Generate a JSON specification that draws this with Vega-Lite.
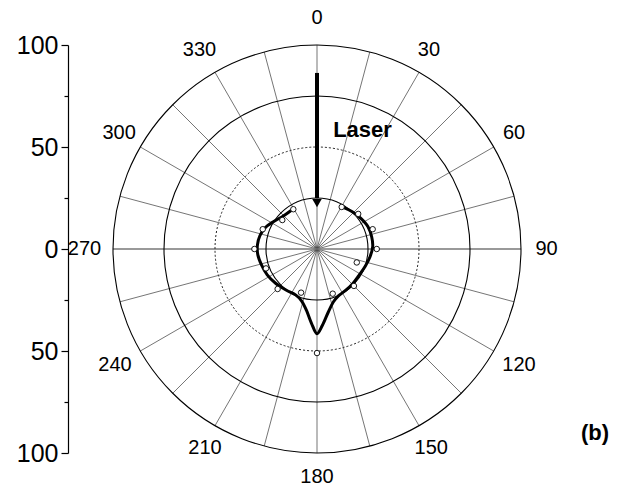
{
  "$schema": "https://vega.github.io/schema/vega-lite/v6.json",
  "width": 408,
  "height": 408,
  "autosize": {"type": "none"},
  "padding": {"left": 113, "top": 45, "right": 109, "bottom": 35},
  "background": "white",
  "config": {
    "view": {"stroke": null},
    "font": "Liberation Sans",
    "axisY": {
      "domainColor": "black",
      "domainWidth": 1.2,
      "tickColor": "black",
      "tickWidth": 1.2,
      "labelFontSize": 25,
      "labelColor": "black",
      "labelFont": "Liberation Sans",
      "labelPadding": 3,
      "grid": false
    }
  },
  "datasets": {
    "circles": [{"r": 25}, {"r": 75}, {"r": 100}],
    "dotted": [{"r": 50}],
    "spokes": [
      {"a": 0, "x1": 0, "y1": 100, "x2": 0, "y2": -100},
      {"a": 15, "x1": 25.88, "y1": 96.59, "x2": -25.88, "y2": -96.59},
      {"a": 30, "x1": 50, "y1": 86.6, "x2": -50, "y2": -86.6},
      {"a": 45, "x1": 70.71, "y1": 70.71, "x2": -70.71, "y2": -70.71},
      {"a": 60, "x1": 86.6, "y1": 50, "x2": -86.6, "y2": -50},
      {"a": 75, "x1": 96.59, "y1": 25.88, "x2": -96.59, "y2": -25.88},
      {"a": 105, "x1": 96.59, "y1": -25.88, "x2": -96.59, "y2": 25.88},
      {"a": 120, "x1": 86.6, "y1": -50, "x2": -86.6, "y2": 50},
      {"a": 135, "x1": 70.71, "y1": -70.71, "x2": -70.71, "y2": 70.71},
      {"a": 150, "x1": 50, "y1": -86.6, "x2": -50, "y2": 86.6},
      {"a": 165, "x1": 25.88, "y1": -96.59, "x2": -25.88, "y2": 96.59}
    ],
    "hspoke": [{"a": 90, "x1": 100, "y1": 0, "x2": -100, "y2": 0}],
    "curve": [
      {"i": 0, "x": -11.9, "y": 19.5},
      {"i": 1, "x": -16.5, "y": 16.2},
      {"i": 2, "x": -21.4, "y": 13.4},
      {"i": 3, "x": -25.5, "y": 10.3},
      {"i": 4, "x": -28.0, "y": 6.5},
      {"i": 5, "x": -29.2, "y": 2.0},
      {"i": 6, "x": -29.0, "y": -2.9},
      {"i": 7, "x": -27.2, "y": -7.8},
      {"i": 8, "x": -24.4, "y": -12.7},
      {"i": 9, "x": -20.3, "y": -16.8},
      {"i": 10, "x": -15.2, "y": -20.1},
      {"i": 11, "x": -10.5, "y": -22.5},
      {"i": 12, "x": -7.5, "y": -25.5},
      {"i": 13, "x": -5.2, "y": -30.0},
      {"i": 14, "x": -2.7, "y": -36.4},
      {"i": 15, "x": 0, "y": -41.5},
      {"i": 16, "x": 2.6, "y": -37.5},
      {"i": 17, "x": 5.5, "y": -31.0},
      {"i": 18, "x": 8.0, "y": -26.0},
      {"i": 19, "x": 10.5, "y": -23.0},
      {"i": 20, "x": 14.0, "y": -20.3},
      {"i": 21, "x": 17.5, "y": -17.0},
      {"i": 22, "x": 20.5, "y": -13.0},
      {"i": 23, "x": 23.5, "y": -8.7},
      {"i": 24, "x": 26.0, "y": -3.8},
      {"i": 25, "x": 27.3, "y": 1.1},
      {"i": 26, "x": 26.8, "y": 6.0},
      {"i": 27, "x": 25.0, "y": 10.9},
      {"i": 28, "x": 21.5, "y": 15.0},
      {"i": 29, "x": 17.3, "y": 18.3},
      {"i": 30, "x": 12.9, "y": 20.4}
    ],
    "points": [
      {"x": -11.6, "y": 19.5},
      {"x": -17.0, "y": 14.2},
      {"x": -26.6, "y": 9.7},
      {"x": -30.7, "y": 0},
      {"x": -25.0, "y": -9.5},
      {"x": -19.3, "y": -19.6},
      {"x": -7.8, "y": -21.4},
      {"x": 0, "y": -51},
      {"x": 7.7, "y": -21.9},
      {"x": 18.1, "y": -18.1},
      {"x": 19.5, "y": -6.6},
      {"x": 29.3, "y": 0},
      {"x": 27.3, "y": 9.7},
      {"x": 20.2, "y": 17.2},
      {"x": 12.1, "y": 20.6}
    ],
    "arrow": [{"x": 0, "y": 86.3, "y2": 25}],
    "arrowhead": [{"x": 0, "y": 22.5}],
    "labels": [
      {"lab": "0", "x": 0, "y": 113},
      {"lab": "30", "x": 54.9, "y": 97.5},
      {"lab": "60", "x": 96.6, "y": 56.9},
      {"lab": "90", "x": 112.5, "y": 0},
      {"lab": "120", "x": 99, "y": -56.9},
      {"lab": "150", "x": 56, "y": -97.5},
      {"lab": "180", "x": 0, "y": -112},
      {"lab": "210", "x": -54.9, "y": -97.5},
      {"lab": "240", "x": -99, "y": -56.9},
      {"lab": "270", "x": -114, "y": 0},
      {"lab": "300", "x": -97, "y": 56.9},
      {"lab": "330", "x": -57.6, "y": 97.5}
    ],
    "bold": [
      {"lab": "Laser", "x": 22.3, "y": 58.3},
      {"lab": "(b)", "x": 136.3, "y": -90.2}
    ]
  },
  "layer": [
    {
      "data": {"name": "spokes"},
      "mark": {"type": "rule", "color": "#3a3a3a", "strokeWidth": 0.7},
      "encoding": {
        "x": {"field": "x1", "type": "quantitative", "scale": {"domain": [-100, 100], "nice": false, "zero": false}, "axis": null},
        "y": {"field": "y1", "type": "quantitative", "scale": {"domain": [-100, 100], "nice": false, "zero": false}, "title": null,
          "axis": {"values": [-100, -75, -50, -25, 0, 25, 50, 75, 100], "offset": 45, "title": null,
            "labelExpr": "datum.value % 50 === 0 ? '' + abs(datum.value) : ''",
            "tickSize": {"condition": {"test": "datum.value % 50 === 0", "value": 7}, "value": 4}}},
        "x2": {"field": "x2"},
        "y2": {"field": "y2"}
      }
    },
    {
      "data": {"name": "hspoke"},
      "mark": {"type": "rule", "color": "#777777", "strokeWidth": 1.4},
      "encoding": {
        "x": {"field": "x1", "type": "quantitative", "axis": null},
        "y": {"field": "y1", "type": "quantitative", "title": null},
        "x2": {"field": "x2"},
        "y2": {"field": "y2"}
      }
    },
    {
      "data": {"name": "circles"},
      "mark": {"type": "arc", "theta": 0, "theta2": 6.2832, "filled": false, "stroke": "black", "strokeWidth": 1.1},
      "encoding": {
        "radius": {"field": "r", "type": "quantitative", "stack": null, "scale": {"type": "linear", "domain": [0, 100], "range": [0, 204], "zero": true}}
      }
    },
    {
      "data": {"name": "dotted"},
      "mark": {"type": "arc", "theta": 0, "theta2": 6.2832, "filled": false, "stroke": "#222222", "strokeWidth": 1, "strokeDash": [2, 2]},
      "encoding": {
        "radius": {"field": "r", "type": "quantitative", "stack": null}
      }
    },
    {
      "data": {"name": "curve"},
      "mark": {"type": "line", "color": "black", "strokeWidth": 3, "interpolate": "catmull-rom"},
      "encoding": {
        "x": {"field": "x", "type": "quantitative", "axis": null},
        "y": {"field": "y", "type": "quantitative", "title": null},
        "order": {"field": "i", "type": "quantitative"}
      }
    },
    {
      "data": {"name": "points"},
      "mark": {"type": "point", "shape": "circle", "filled": true, "fill": "white", "stroke": "black", "strokeWidth": 0.9, "size": 30, "opacity": 1},
      "encoding": {
        "x": {"field": "x", "type": "quantitative", "axis": null},
        "y": {"field": "y", "type": "quantitative", "title": null}
      }
    },
    {
      "data": {"name": "arrow"},
      "mark": {"type": "rule", "color": "black", "strokeWidth": 4},
      "encoding": {
        "x": {"field": "x", "type": "quantitative", "axis": null},
        "y": {"field": "y", "type": "quantitative", "title": null},
        "y2": {"field": "y2"}
      }
    },
    {
      "data": {"name": "arrowhead"},
      "mark": {"type": "point", "shape": "triangle-down", "filled": true, "color": "black", "size": 90, "opacity": 1},
      "encoding": {
        "x": {"field": "x", "type": "quantitative", "axis": null},
        "y": {"field": "y", "type": "quantitative", "title": null}
      }
    },
    {
      "data": {"name": "labels"},
      "mark": {"type": "text", "fontSize": 20, "font": "Liberation Sans", "color": "black", "align": "center", "baseline": "middle"},
      "encoding": {
        "x": {"field": "x", "type": "quantitative", "axis": null},
        "y": {"field": "y", "type": "quantitative", "title": null},
        "text": {"field": "lab"}
      }
    },
    {
      "data": {"name": "bold"},
      "mark": {"type": "text", "fontSize": 22, "fontWeight": "bold", "font": "Liberation Sans", "color": "black", "align": "center", "baseline": "middle"},
      "encoding": {
        "x": {"field": "x", "type": "quantitative", "axis": null},
        "y": {"field": "y", "type": "quantitative", "title": null},
        "text": {"field": "lab"}
      }
    }
  ]
}
